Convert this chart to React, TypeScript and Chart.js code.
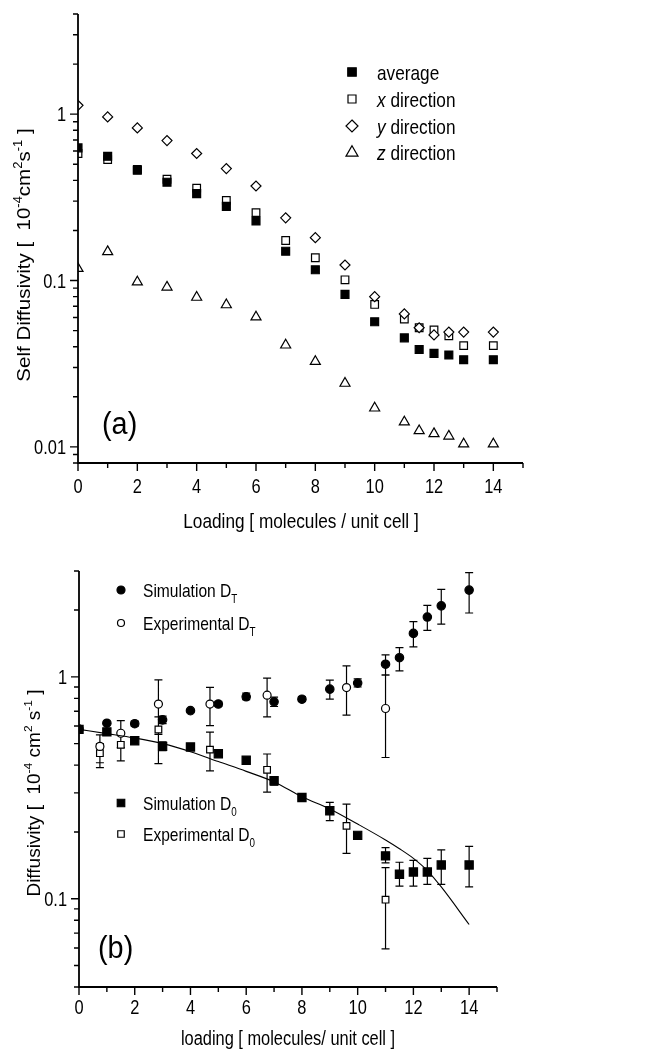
import React, { useEffect, useRef } from 'react';
import { Chart, registerables } from 'chart.js';
Chart.register(...registerables);

const FONT = '"Liberation Sans", Arial, Helvetica, sans-serif';
const K = 0.82; // horizontal squeeze of the glyphs in the original figure
const KV = 0.92; // glyph-height squeeze for rotated titles

// ---------------- Panel (a) ----------------
const loadingA = [0, 1, 2, 3, 4, 5, 6, 7, 8, 9, 10, 11, 11.5, 12, 12.5, 13, 14];
const averageA = [0.627, 0.558, 0.46, 0.39, 0.333, 0.279, 0.228, 0.15, 0.116, 0.0825, 0.0565, 0.0452, 0.0385, 0.0365, 0.0357, 0.0334, 0.0334];
const xDirA = [0.58, 0.533, 0.466, 0.406, 0.359, 0.303, 0.256, 0.174, 0.137, 0.101, 0.0718, 0.0587, 0.052, 0.0505, 0.0465, 0.0406, 0.0406];
const yDirA = [1.13, 0.963, 0.827, 0.694, 0.58, 0.471, 0.37, 0.238, 0.181, 0.124, 0.08, 0.063, 0.052, 0.0471, 0.049, 0.049, 0.049];
const zDirA = [0.118, 0.149, 0.0979, 0.0912, 0.0792, 0.0714, 0.0603, 0.0409, 0.0326, 0.0241, 0.0171, 0.0141, 0.0125, 0.012, 0.0116, 0.0104, 0.0104];

const yMajorA = [0.01, 0.1, 1];
const yMinorA = [0.008, 0.009, 0.02, 0.03, 0.04, 0.05, 0.06, 0.07, 0.08, 0.09, 0.2, 0.3, 0.4, 0.5, 0.6, 0.7, 0.8, 0.9, 2, 3, 4];
const yLabelsA = ['0.01', '0.1', '1'];

// ---------------- Panel (b) ----------------
const simLoading = [0, 1, 2, 3, 4, 5, 6, 7, 8, 9, 10, 11, 11.5, 12, 12.5, 13, 14];
const simDT = [0.581, 0.618, 0.615, 0.64, 0.704, 0.754, 0.813, 0.772, 0.793, 0.88, 0.937, 1.14, 1.22, 1.57, 1.86, 2.09, 2.46];
const simDTLow = [null, null, 0.6, 0.615, null, 0.735, 0.79, 0.735, 0.775, 0.793, 0.9, 1.018, 1.064, 1.365, 1.62, 1.73, 1.94];
const simDTHigh = [null, null, 0.632, 0.665, null, 0.775, 0.845, 0.81, 0.815, 0.966, 0.98, 1.256, 1.355, 1.774, 2.1, 2.48, 2.95];
const simD0 = [0.58, 0.565, 0.515, 0.486, 0.483, 0.45, 0.421, 0.34, 0.286, 0.249, 0.193, 0.156, 0.129, 0.132, 0.132, 0.142, 0.142];
const simD0Low = [null, null, null, 0.465, null, null, null, 0.325, null, 0.225, null, 0.145, 0.114, 0.114, 0.116, 0.116, 0.113];
const simD0High = [null, null, null, 0.51, null, null, null, 0.355, null, 0.272, null, 0.17, 0.146, 0.149, 0.152, 0.166, 0.172];

const expLoading = [0.75, 1.5, 2.85, 4.7, 6.75, 9.6, 11];
const expDT = [0.486, 0.557, 0.754, 0.754, 0.827, 0.895, 0.72];
const expDTLow = [0.41, 0.48, 0.55, 0.603, 0.66, 0.672, 0.433];
const expDTHigh = [0.548, 0.635, 0.97, 0.896, 0.987, 1.12, 1.02];
const expD0 = [0.453, 0.494, 0.579, 0.47, 0.381, 0.213, 0.099];
const expD0Low = [0.39, 0.418, 0.406, 0.377, 0.302, 0.16, 0.0594];
const expD0High = [0.5, 0.56, 0.66, 0.564, 0.449, 0.267, 0.138];

const fitLoading = [0, 1, 2, 3, 4, 5, 6, 7, 8, 9, 10, 11, 11.5, 12, 12.5, 13, 14];
const fitD0 = [0.58, 0.555, 0.53, 0.5, 0.46, 0.415, 0.375, 0.336, 0.288, 0.254, 0.217, 0.184, 0.168, 0.152, 0.134, 0.113, 0.0765];

const yMajorB = [0.1, 1];
const yMinorB = [0.04, 0.05, 0.06, 0.07, 0.08, 0.09, 0.2, 0.3, 0.4, 0.5, 0.6, 0.7, 0.8, 0.9, 2, 3];
const yLabelsB = ['0.1', '1'];

const xMajor = [0, 2, 4, 6, 8, 10, 12, 14];
const xMinor = [1, 3, 5, 7, 9, 11, 13, 15];
const xLabels = ['0', '2', '4', '6', '8', '10', '12', '14'];

// ---------------- helpers ----------------
type Part = { t: string; s: number; dy?: number; it?: boolean };

const fontOf = (p: Part) => `${p.it ? 'italic ' : ''}${p.s}px ${FONT}`;

function drawRich(
  ctx: CanvasRenderingContext2D,
  parts: Part[],
  x: number,
  y: number,
  align: 'left' | 'center' | 'right',
  k: number = K
) {
  let w = 0;
  for (const p of parts) {
    ctx.font = fontOf(p);
    w += ctx.measureText(p.t).width;
  }
  const start = align === 'center' ? x - (w * k) / 2 : align === 'right' ? x - w * k : x;
  ctx.save();
  ctx.translate(start, y);
  ctx.scale(k, 1);
  ctx.textAlign = 'left';
  ctx.textBaseline = 'alphabetic';
  ctx.fillStyle = '#000';
  let cx = 0;
  for (const p of parts) {
    ctx.font = fontOf(p);
    ctx.fillText(p.t, cx, p.dy || 0);
    cx += ctx.measureText(p.t).width;
  }
  ctx.restore();
}

function drawVertical(ctx: CanvasRenderingContext2D, parts: Part[], cx: number, cy: number, size: number) {
  ctx.save();
  ctx.translate(cx, cy);
  ctx.rotate(-Math.PI / 2);
  ctx.scale(1, KV);
  drawRich(ctx, parts, 0, size * 0.36, 'center', 1);
  ctx.restore();
}

function drawMarker(ctx: CanvasRenderingContext2D, kind: string, x: number, y: number, size: number, filled: boolean) {
  ctx.save();
  ctx.beginPath();
  if (kind === 'rect') {
    ctx.rect(x - size / 2, y - size / 2, size, size);
  } else if (kind === 'diamond') {
    ctx.moveTo(x, y - size / 2);
    ctx.lineTo(x + size / 2, y);
    ctx.lineTo(x, y + size / 2);
    ctx.lineTo(x - size / 2, y);
    ctx.closePath();
  } else if (kind === 'triangle') {
    const h = size * 0.866;
    ctx.moveTo(x, y - h * 0.6);
    ctx.lineTo(x + size / 2, y + h * 0.4);
    ctx.lineTo(x - size / 2, y + h * 0.4);
    ctx.closePath();
  } else {
    ctx.arc(x, y, size / 2, 0, Math.PI * 2);
  }
  ctx.fillStyle = filled ? '#000' : '#fff';
  ctx.fill();
  ctx.lineWidth = 1.2;
  ctx.strokeStyle = '#000';
  ctx.stroke();
  ctx.restore();
}

const pts = (xs: number[], ys: number[]) => xs.map((x, i) => ({ x, y: ys[i] }));

const TICK_FS = 20;

function axesPlugin(yMajor: number[], yMinor: number[], yLabels: string[], xLabelBaseline: number) {
  return {
    id: 'axesDraw',
    afterDraw(chart: any) {
      const { ctx, chartArea: ca, scales } = chart;
      const xs = scales.x;
      const ys = scales.y;
      ctx.save();
      ctx.strokeStyle = '#000';
      ctx.lineWidth = 1.8;
      ctx.beginPath();
      ctx.moveTo(ca.left, ca.top);
      ctx.lineTo(ca.left, ca.bottom);
      ctx.lineTo(ca.right, ca.bottom);
      ctx.stroke();
      ctx.lineWidth = 1.4;
      ctx.beginPath();
      const tick = (x1: number, y1: number, x2: number, y2: number) => {
        ctx.moveTo(x1, y1);
        ctx.lineTo(x2, y2);
      };
      for (const v of yMajor) {
        const p = ys.getPixelForValue(v);
        tick(ca.left - 8, p, ca.left, p);
      }
      for (const v of yMinor) {
        const p = ys.getPixelForValue(v);
        tick(ca.left - 5, p, ca.left, p);
      }
      for (const v of xMajor) {
        const p = xs.getPixelForValue(v);
        tick(p, ca.bottom, p, ca.bottom + 8);
      }
      for (const v of xMinor) {
        const p = xs.getPixelForValue(v);
        tick(p, ca.bottom, p, ca.bottom + 5);
      }
      ctx.stroke();
      yMajor.forEach((v, i) => {
        const p = ys.getPixelForValue(v);
        drawRich(ctx, [{ t: yLabels[i], s: TICK_FS }], ca.left - 12, p + TICK_FS * 0.36, 'right');
      });
      xMajor.forEach((v, i) => {
        const p = xs.getPixelForValue(v);
        drawRich(ctx, [{ t: xLabels[i], s: TICK_FS }], p, xLabelBaseline, 'center');
      });
      ctx.restore();
    },
  };
}

type ErrSet = { xs: number[]; lo: (number | null)[]; hi: (number | null)[] };

function errorPlugin(sets: ErrSet[]) {
  return {
    id: 'errorBars',
    beforeDatasetsDraw(chart: any) {
      const { ctx, scales } = chart;
      ctx.save();
      ctx.strokeStyle = '#000';
      ctx.lineWidth = 1.2;
      ctx.beginPath();
      for (const s of sets) {
        s.xs.forEach((xv, i) => {
          const lo = s.lo[i];
          const hi = s.hi[i];
          if (lo == null || hi == null) return;
          const px = scales.x.getPixelForValue(xv);
          const pl = scales.y.getPixelForValue(lo);
          const ph = scales.y.getPixelForValue(hi);
          ctx.moveTo(px, pl);
          ctx.lineTo(px, ph);
          ctx.moveTo(px - 4, pl);
          ctx.lineTo(px + 4, pl);
          ctx.moveTo(px - 4, ph);
          ctx.lineTo(px + 4, ph);
        });
      }
      ctx.stroke();
      ctx.restore();
    },
  };
}

function textPlugin(draw: (ctx: CanvasRenderingContext2D) => void) {
  return {
    id: 'texts',
    afterDraw(chart: any) {
      const ctx = chart.ctx as CanvasRenderingContext2D;
      ctx.save();
      draw(ctx);
      ctx.restore();
    },
  };
}

function scatterSet(data: any[], style: string, radius: number, filled: boolean) {
  return {
    type: 'scatter',
    data,
    pointStyle: style,
    pointRadius: radius,
    pointBackgroundColor: filled ? '#000' : '#fff',
    pointBorderColor: '#000',
    pointBorderWidth: 1.2,
    showLine: false,
    clip: 0,
  };
}

function scalesFor(yMin: number, yMax: number, yMajor: number[], yWidth: number, xHeight: number) {
  return {
    x: {
      type: 'linear',
      min: 0,
      max: 15,
      afterBuildTicks: (s: any) => {
        s.ticks = xMajor.map((v) => ({ value: v }));
      },
      afterFit: (s: any) => {
        s.height = xHeight;
      },
      ticks: { display: false },
      grid: { display: false, drawTicks: false },
      border: { display: false },
    },
    y: {
      type: 'logarithmic',
      min: yMin,
      max: yMax,
      afterBuildTicks: (s: any) => {
        s.ticks = yMajor.map((v) => ({ value: v }));
      },
      afterFit: (s: any) => {
        s.width = yWidth;
      },
      ticks: { display: false },
      grid: { display: false, drawTicks: false },
      border: { display: false },
    },
  };
}

function configA(): any {
  return {
    type: 'scatter',
    data: {
      datasets: [
        scatterSet(pts(loadingA, zDirA), 'triangle', 5.8, false),
        scatterSet(pts(loadingA, yDirA), 'rectRot', 5, false),
        scatterSet(pts(loadingA, averageA), 'rect', 5.6, true),
        scatterSet(pts(loadingA, xDirA), 'rect', 5.4, false),
      ],
    },
    options: {
      animation: false,
      responsive: false,
      layout: { padding: { left: 0, top: 14, right: 126, bottom: 0 } },
      plugins: { legend: { display: false }, tooltip: { enabled: false } },
      scales: scalesFor(0.008, 4, yMajorA, 78, 72),
    },
    plugins: [
      axesPlugin(yMajorA, yMinorA, yLabelsA, 493),
      textPlugin((ctx) => {
        const lx = 352;
        const tx = 377;
        const rows = [72, 99, 126, 152];
        drawMarker(ctx, 'rect', lx, rows[0], 8.5, true);
        drawMarker(ctx, 'rect', lx, rows[1], 8, false);
        drawMarker(ctx, 'diamond', lx, rows[2], 12, false);
        drawMarker(ctx, 'triangle', lx, rows[3], 12, false);
        const fs = 21;
        const bl = (y: number) => y + fs * 0.36;
        drawRich(ctx, [{ t: 'average', s: fs }], tx, bl(rows[0]), 'left');
        drawRich(ctx, [{ t: 'x', s: fs, it: true }, { t: ' direction', s: fs }], tx, bl(rows[1]), 'left');
        drawRich(ctx, [{ t: 'y', s: fs, it: true }, { t: ' direction', s: fs }], tx, bl(rows[2]), 'left');
        drawRich(ctx, [{ t: 'z', s: fs, it: true }, { t: ' direction', s: fs }], tx, bl(rows[3]), 'left');
        drawRich(ctx, [{ t: '(a)', s: 31 }], 102, 423 + 31 * 0.36, 'left', 0.93);
        drawRich(ctx, [{ t: 'Loading [ molecules / unit cell ]', s: 21 }], 301, 520 + 21 * 0.36, 'center');
        const sup = 13;
        drawVertical(
          ctx,
          [
            { t: 'Self Diffusivity [  10', s: 20.5 },
            { t: '-4', s: sup, dy: -9 },
            { t: 'cm', s: 20.5 },
            { t: '2', s: sup, dy: -9 },
            { t: 's', s: 20.5 },
            { t: '-1', s: sup, dy: -9 },
            { t: ' ]', s: 20.5 },
          ],
          23,
          255,
          20.5
        );
      }),
    ],
  };
}

function configB(): any {
  return {
    type: 'scatter',
    data: {
      datasets: [
        {
          type: 'scatter',
          data: pts(fitLoading, fitD0),
          showLine: true,
          borderColor: '#000',
          borderWidth: 1.1,
          pointRadius: 0,
          cubicInterpolationMode: 'monotone',
          clip: 0,
        },
        scatterSet(pts(simLoading, simDT), 'circle', 4.2, true),
        scatterSet(pts(simLoading, simD0), 'rect', 5.8, true),
        scatterSet(pts(expLoading, expDT), 'circle', 4, false),
        scatterSet(pts(expLoading, expD0), 'rect', 4.7, false),
      ],
    },
    options: {
      animation: false,
      responsive: false,
      layout: { padding: { left: 0, top: 36, right: 152, bottom: 0 } },
      plugins: { legend: { display: false }, tooltip: { enabled: false } },
      scales: scalesFor(0.04, 3, yMajorB, 79, 62),
    },
    plugins: [
      errorPlugin([
        { xs: simLoading, lo: simDTLow, hi: simDTHigh },
        { xs: simLoading, lo: simD0Low, hi: simD0High },
        { xs: expLoading, lo: expDTLow, hi: expDTHigh },
        { xs: expLoading, lo: expD0Low, hi: expD0High },
      ]),
      axesPlugin(yMajorB, yMinorB, yLabelsB, 479),
      textPlugin((ctx) => {
        const lx = 121;
        const tx = 143;
        const fs = 19;
        const sub = 12;
        const bl = (y: number) => y + fs * 0.36;
        drawMarker(ctx, 'circle', lx, 55, 8, true);
        drawMarker(ctx, 'circle', lx, 88, 7, false);
        drawMarker(ctx, 'rect', lx, 268, 7.5, true);
        drawMarker(ctx, 'rect', lx, 299, 6.5, false);
        drawRich(ctx, [{ t: 'Simulation D', s: fs }, { t: 'T', s: sub, dy: 6 }], tx, bl(55), 'left');
        drawRich(ctx, [{ t: 'Experimental D', s: fs }, { t: 'T', s: sub, dy: 6 }], tx, bl(88), 'left');
        drawRich(ctx, [{ t: 'Simulation D', s: fs }, { t: '0', s: sub, dy: 6 }], tx, bl(268), 'left');
        drawRich(ctx, [{ t: 'Experimental D', s: fs }, { t: '0', s: sub, dy: 6 }], tx, bl(299), 'left');
        drawRich(ctx, [{ t: '(b)', s: 31 }], 98, 412 + 31 * 0.36, 'left', 0.93);
        drawRich(ctx, [{ t: 'loading [ molecules/ unit cell ]', s: 20 }], 288, 510, 'center');
        const sup = 12;
        drawVertical(
          ctx,
          [
            { t: 'Diffusivity [  10', s: 19 },
            { t: '-4', s: sup, dy: -9 },
            { t: ' cm', s: 19 },
            { t: '2', s: sup, dy: -9 },
            { t: ' s', s: 19 },
            { t: '-1', s: sup, dy: -9 },
            { t: ' ]', s: 19 },
          ],
          34,
          258,
          19
        );
      }),
    ],
  };
}

export default function App() {
  const refA = useRef<HTMLCanvasElement>(null);
  const refB = useRef<HTMLCanvasElement>(null);
  useEffect(() => {
    const a = new Chart(refA.current as HTMLCanvasElement, configA());
    const b = new Chart(refB.current as HTMLCanvasElement, configB());
    return () => {
      a.destroy();
      b.destroy();
    };
  }, []);
  return (
    <div style={{ position: 'absolute', left: 0, top: 0, width: 649, height: 1049, background: '#fff' }}>
      <canvas ref={refA} width={649} height={535} style={{ position: 'absolute', left: 0, top: 0, width: 649, height: 535 }} />
      <canvas ref={refB} width={649} height={514} style={{ position: 'absolute', left: 0, top: 535, width: 649, height: 514 }} />
    </div>
  );
}
